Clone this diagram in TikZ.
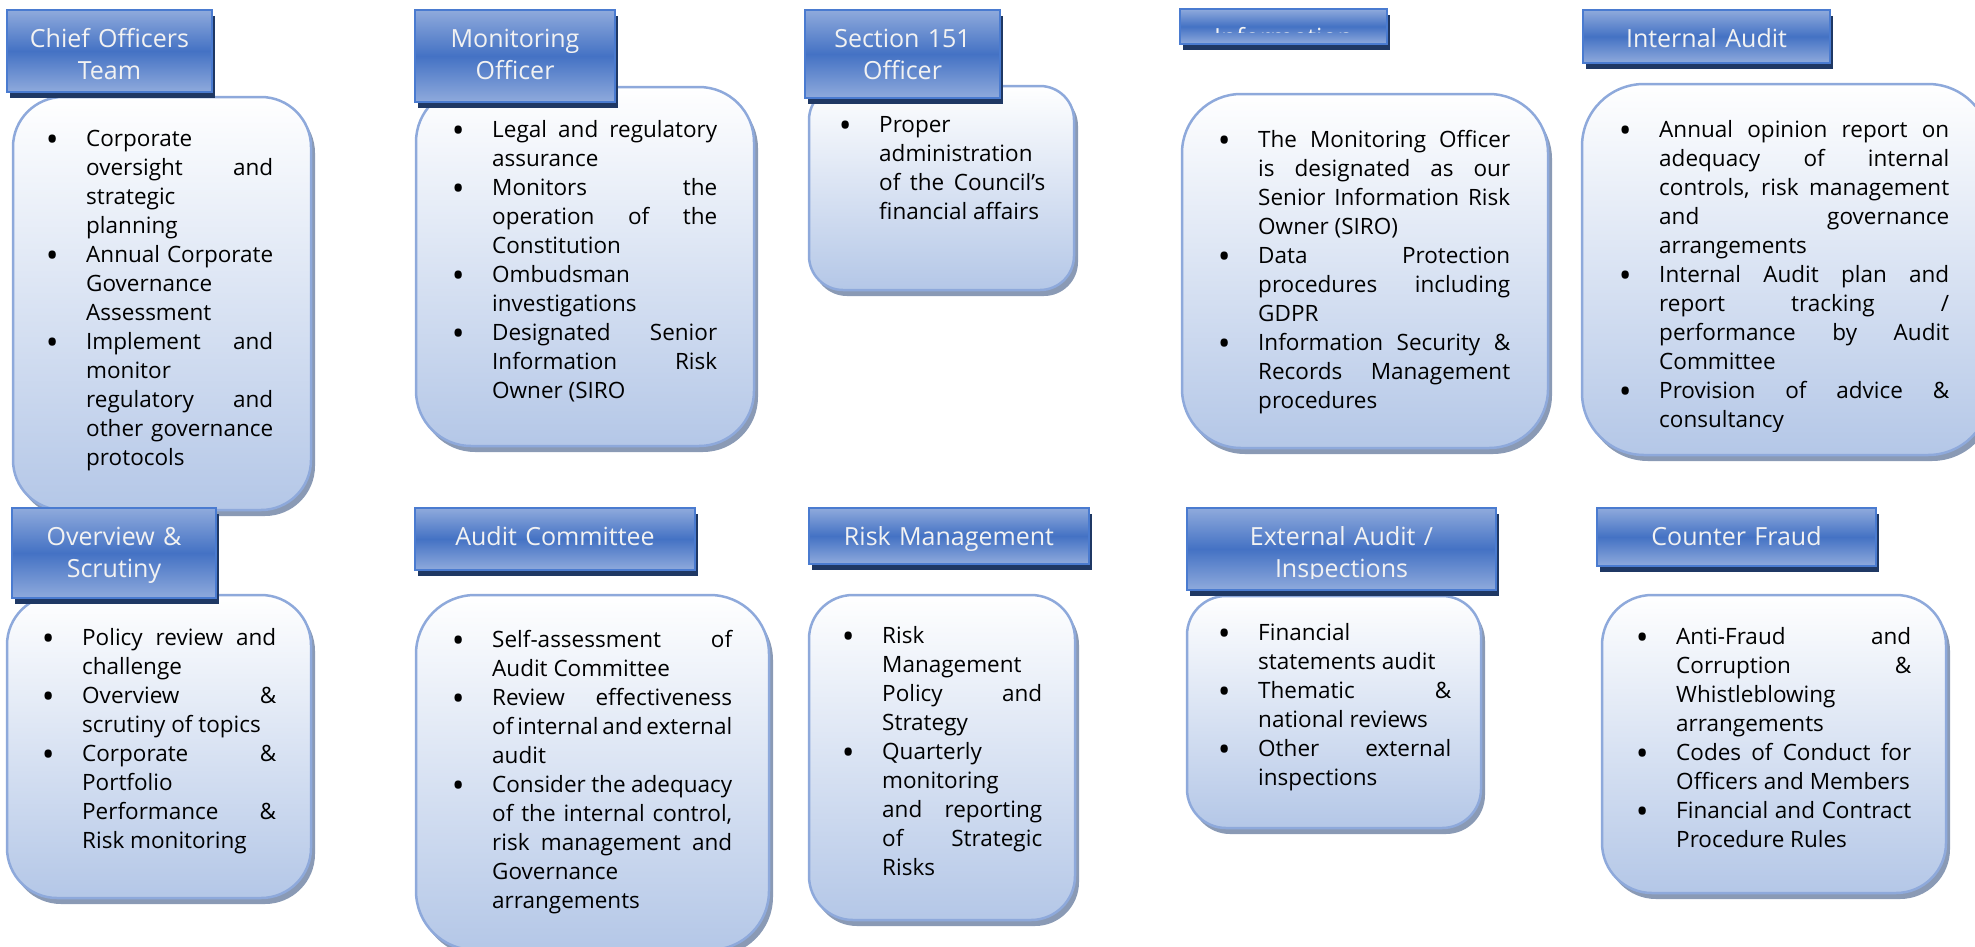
\documentclass[tikz,border=0pt]{standalone}
\usepackage{fontspec}
\setmainfont{Open Sans}[WordSpace={1,1,2}]
\usetikzlibrary{shadows}

\definecolor{hdrlight}{HTML}{8FAADC}
\definecolor{hdrdark}{HTML}{4472C4}
\definecolor{hdrline}{HTML}{4A7BD0}
\definecolor{hdrshadow}{HTML}{1F3864}
\definecolor{bodyline}{HTML}{8EA9DB}
\definecolor{bodyfill}{HTML}{B4C7E7}
\definecolor{bodyshadow}{HTML}{8A9AB5}
\definecolor{hdrtext}{HTML}{F2F2F2}

\hyphenpenalty=10000
\hbadness=10000

\tikzset{
  panel/.style={draw=bodyline, line width=2.5pt, top color=white, bottom color=bodyfill,
    drop shadow={shadow xshift=4pt, shadow yshift=-6pt, fill=bodyshadow, opacity=1}},
  header/.style={draw=hdrline, line width=2pt, top color=hdrlight, bottom color=hdrlight,
    middle color=hdrdark, drop shadow={shadow xshift=3pt, shadow yshift=-6pt, fill=hdrshadow, opacity=1}},
  hdrtitle/.style={anchor=base, inner sep=0pt, text=hdrtext, align=center,
    font=\fontsize{25}{32}\selectfont},
  items/.style={anchor=base west, inner sep=0pt, align=justify,
    font=\fontsize{22.5}{29}\selectfont}
}
\newcommand{\bulmark}{\leavevmode\llap{\makebox[0pt]{\raisebox{-5pt}{\fontsize{34}{29}\selectfont\textbullet}}\hspace{34pt}}}
\newcommand{\bul}{\par\bulmark}

\begin{document}
\begin{tikzpicture}[x=1pt,y=-1pt]
\clip (0,0) rectangle (1975,946);
% top row
\node[panel, minimum width=298pt, minimum height=413pt, rounded corners=50pt] (chiefbox) at (162,303.5) {};
\node[panel, minimum width=338pt, minimum height=359pt, rounded corners=55pt] (monbox) at (585,266.5) {};
\node[panel, minimum width=265pt, minimum height=204pt, rounded corners=34pt] (sectbox) at (941.5,188) {};
\node[panel, minimum width=366pt, minimum height=354pt, rounded corners=59pt] (infobox) at (1365,271) {};
\node[panel, minimum width=408pt, minimum height=371pt, rounded corners=62pt] (iabox) at (1786,269.5) {};
% bottom row
\node[panel, minimum width=304pt, minimum height=303pt, rounded corners=50pt] (ovsbox) at (159,746.5) {};
\node[panel, minimum width=353pt, minimum height=355pt, rounded corners=59pt] (acbox) at (592.5,772.5) {};
\node[panel, minimum width=266pt, minimum height=325pt, rounded corners=44pt] (riskbox) at (942,757.5) {};
\node[panel, minimum width=294pt, minimum height=232pt, rounded corners=39pt] (extbox) at (1334,712) {};
\node[panel, minimum width=344pt, minimum height=298pt, rounded corners=50pt] (cfbox) at (1774,744) {};

\node[items, text width=187pt] (chieftxt) at (86,146) {\bulmark Corporate\linebreak oversight and\linebreak strategic\linebreak planning
  \bul Annual Corporate\linebreak Governance\linebreak Assessment
  \bul Implement and\linebreak monitor\linebreak regulatory and\linebreak other governance\linebreak protocols};
\node[items, text width=225pt] (montxt) at (492,137) {\bulmark Legal and regulatory\linebreak assurance
  \bul Monitors the\linebreak operation of the\linebreak Constitution
  \bul Ombudsman\linebreak investigations
  \bul Designated Senior\linebreak Information Risk\linebreak Owner (SIRO};
\node[items, text width=166pt] (secttxt) at (879,132) {\bulmark Proper\linebreak administration\linebreak of the Council’s\linebreak financial affairs};
\node[items, text width=252pt] (infotxt) at (1258,147) {\bulmark The Monitoring Officer\linebreak is designated as our\linebreak Senior Information Risk\linebreak Owner (SIRO)
  \bul Data Protection\linebreak procedures including\linebreak GDPR
  \bul Information Security \&\linebreak Records Management\linebreak procedures};
\begin{scope}
\clip (1582,84) rectangle (1990,431);
\node[items, text width=290pt] (iatxt) at (1659,137) {\bulmark Annual opinion report on\linebreak adequacy of internal\linebreak controls, risk management\linebreak and governance\linebreak arrangements
  \bul Internal Audit plan and\linebreak report tracking /\linebreak performance by Audit\linebreak Committee
  \bul Provision of advice \&\linebreak consultancy};
\end{scope}
\node[items, text width=194pt] (ovstxt) at (82,645) {\bulmark Policy review and\linebreak challenge
  \bul Overview \&\linebreak scrutiny of topics
  \bul Corporate \&\linebreak Portfolio\linebreak Performance \&\linebreak Risk monitoring};
\node[items, text width=240pt] (actxt) at (492,647) {\bulmark Self-assessment of\linebreak Audit Committee
  \bul Review effectiveness\linebreak of internal and external\linebreak audit
  \bul Consider the adequacy\linebreak of the internal control,\linebreak risk management and\linebreak Governance\linebreak arrangements};
\node[items, text width=160pt] (risktxt) at (882,643) {\bulmark Risk\linebreak Management\linebreak Policy and\linebreak Strategy
  \bul Quarterly\linebreak monitoring\linebreak and reporting\linebreak of Strategic\linebreak Risks};
\node[items, text width=193pt] (exttxt) at (1258,640) {\bulmark Financial\linebreak statements audit
  \bul Thematic \&\linebreak national reviews
  \bul Other external\linebreak inspections};
\node[items, text width=235pt] (cftxt) at (1676,644) {\bulmark Anti-Fraud and\linebreak Corruption \&\linebreak Whistleblowing\linebreak arrangements
  \bul Codes of Conduct for\linebreak Officers and Members
  \bul Financial and Contract\linebreak Procedure Rules};

% title bars
\node[header, minimum width=205pt, minimum height=82pt] (chiefhdr) at (109.5,51) {};
\node[header, minimum width=200pt, minimum height=92pt] (monhdr) at (515,56) {};
\node[header, minimum width=195pt, minimum height=88pt] (secthdr) at (902.5,54) {};
\node[header, minimum width=207pt, minimum height=35pt] (infohdr) at (1283.5,26.5) {};
\node[header, minimum width=247pt, minimum height=53pt] (iahdr) at (1706.5,36.5) {};
\node[header, minimum width=204pt, minimum height=90pt] (ovshdr) at (114,553) {};
\node[header, minimum width=280pt, minimum height=62pt] (achdr) at (555,539) {};
\node[header, minimum width=280pt, minimum height=56pt] (riskhdr) at (949,536) {};
\node[header, minimum width=309pt, minimum height=82pt] (exthdr) at (1341.5,549) {};
\node[header, minimum width=279pt, minimum height=58pt] (cfhdr) at (1736.5,537) {};

\node[hdrtitle, text width=205pt] (chieftitle) at (109.5,47) {Chief Officers\\Team};
\node[hdrtitle, text width=200pt] (montitle) at (515,47) {Monitoring\\Officer};
\node[hdrtitle, text width=195pt] (secttitle) at (902.5,47) {Section 151\\Officer};
\begin{scope}
\clip (1180,9) rectangle (1387,32);
\node[hdrtitle, text width=207pt] (infotitle) at (1283.5,46) {Information};
\end{scope}
\node[hdrtitle, text width=247pt] (iatitle) at (1706.5,47) {Internal Audit};
\node[hdrtitle, text width=204pt] (ovstitle) at (114,545) {Overview \&\\Scrutiny};
\node[hdrtitle, text width=280pt] (actitle) at (555,545) {Audit Committee};
\node[hdrtitle, text width=280pt] (risktitle) at (949,545) {Risk Management};
\begin{scope}
\clip (1187,508) rectangle (1496,578);
\node[hdrtitle, text width=309pt] (exttitle) at (1341.5,545) {External Audit /\\Inspections};
\end{scope}
\node[hdrtitle, text width=279pt] (cftitle) at (1736.5,545) {Counter Fraud};
\end{tikzpicture}
\end{document}
